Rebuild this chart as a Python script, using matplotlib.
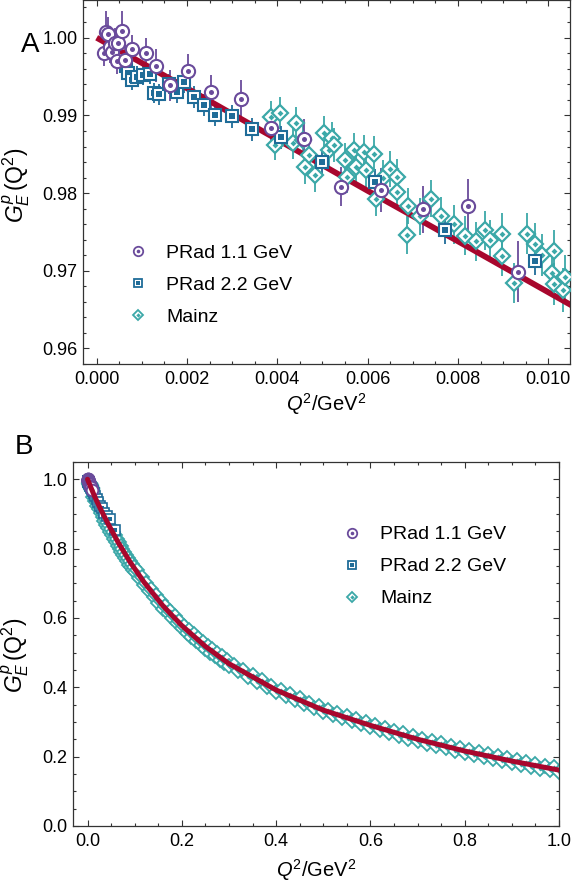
import matplotlib
matplotlib.use("Agg")
import matplotlib.pyplot as plt
from matplotlib.ticker import MultipleLocator, FormatStrFormatter
from matplotlib.lines import Line2D
from matplotlib.legend_handler import HandlerTuple

plt.rcParams['font.family'] = ['Liberation Sans', 'DejaVu Sans']
plt.rcParams['mathtext.fontset'] = 'custom'
plt.rcParams['mathtext.rm'] = 'Liberation Sans'
plt.rcParams['mathtext.it'] = 'Liberation Sans:italic'

# PRad 1.1 GeV (low Q^2)
prad1_q2 = [0.00016, 0.00021, 0.00026, 0.00030, 0.00035, 0.00040, 0.00046, 0.00048,
            0.00057, 0.00062, 0.00079, 0.00109, 0.00132, 0.00163, 0.00202, 0.00254,
            0.00320, 0.00387, 0.00460, 0.00542, 0.00629, 0.00723, 0.00823, 0.00933]
prad1_ge = [0.9980, 1.0007, 1.0005, 0.9988, 0.9982, 0.9993, 0.9970, 0.9993,
            1.0009, 0.9972, 0.9985, 0.9980, 0.9964, 0.9939, 0.9957, 0.9930,
            0.9921, 0.9884, 0.9870, 0.9808, 0.9804, 0.9779, 0.9784, 0.9699]
prad1_err = [0.0016, 0.0028, 0.0022, 0.0020, 0.0018, 0.0020, 0.0017, 0.0016,
             0.0025, 0.0019, 0.0019, 0.0020, 0.0021, 0.0020, 0.0022, 0.0022,
             0.0024, 0.0025, 0.0025, 0.0025, 0.0028, 0.0030, 0.0034, 0.0039]

# PRad 2.2 GeV
prad2_q2 = [0.00064, 0.00070, 0.00078, 0.00090, 0.00102, 0.00118, 0.00126, 0.00138,
            0.00160, 0.00178, 0.00193, 0.00215, 0.00237, 0.00263, 0.00300, 0.00345,
            0.00408, 0.00500, 0.00616, 0.00771, 0.00971]
prad2_ge = [0.9963, 0.9955, 0.9946, 0.9950, 0.9952, 0.9953, 0.9929, 0.9927,
            0.9940, 0.9930, 0.9943, 0.9924, 0.9913, 0.9901, 0.9899, 0.9882,
            0.9872, 0.9840, 0.9814, 0.9753, 0.9713]
prad2_err = [0.0014, 0.0013, 0.0013, 0.0013, 0.0013, 0.0013, 0.0013, 0.0013,
             0.0013, 0.0014, 0.0014, 0.0014, 0.0014, 0.0014, 0.0015, 0.0015,
             0.0015, 0.0016, 0.0017, 0.0018, 0.0019]
# PRad 2.2 GeV above 0.0105 GeV^2 (only seen in panel B)
prad2_hi_q2 = [0.0115, 0.0135, 0.016, 0.0195, 0.023, 0.027, 0.030, 0.035, 0.041, 0.048, 0.058]
prad2_hi_ge = [0.9650, 0.9595, 0.9530, 0.9430, 0.9340, 0.9230, 0.9160, 0.9040, 0.8950, 0.8850, 0.8540]

# Mainz (low Q^2)
mainz_q2 = [0.00386, 0.00395, 0.00405, 0.00434, 0.00442, 0.00456, 0.00462, 0.00471,
            0.00484, 0.00504, 0.00515, 0.00522, 0.00526, 0.00550, 0.00555, 0.00570,
            0.00574, 0.00592, 0.00596, 0.00614, 0.00618, 0.00633, 0.00650, 0.00666,
            0.00666, 0.00690, 0.00688, 0.00715, 0.00740, 0.00762, 0.00791, 0.00815,
            0.00839, 0.00860, 0.00872, 0.00898, 0.00898, 0.00923, 0.00953, 0.00970,
            0.00986, 0.01008, 0.01012, 0.01012, 0.01032, 0.01038]
mainz_ge = [0.9898, 0.9862, 0.9903, 0.9864, 0.9890, 0.9868, 0.9833, 0.9849,
            0.9823, 0.9877, 0.9855, 0.9871, 0.9862, 0.9843, 0.9821, 0.9856,
            0.9834, 0.9853, 0.9830, 0.9851, 0.9793, 0.9819, 0.9831, 0.9821,
            0.9802, 0.9783, 0.9746, 0.9770, 0.9793, 0.9771, 0.9760, 0.9745,
            0.9738, 0.9752, 0.9740, 0.9748, 0.9719, 0.9684, 0.9748, 0.9735,
            0.9720, 0.9697, 0.9725, 0.9683, 0.9675, 0.9692]
mainz_err = [0.0020, 0.0020, 0.0021, 0.0020, 0.0021, 0.0020, 0.0021, 0.0020,
             0.0021, 0.0022, 0.0021, 0.0021, 0.0022, 0.0022, 0.0021, 0.0022,
             0.0022, 0.0022, 0.0022, 0.0023, 0.0022, 0.0023, 0.0023, 0.0023,
             0.0023, 0.0023, 0.0024, 0.0024, 0.0024, 0.0024, 0.0025, 0.0025,
             0.0025, 0.0025, 0.0025, 0.0026, 0.0026, 0.0026, 0.0027, 0.0027,
             0.0027, 0.0027, 0.0027, 0.0027, 0.0028, 0.0028]

# Mainz above 0.0105 GeV^2 (panel B)
mainz_hi_q2 = [0.012, 0.014, 0.016, 0.018, 0.020, 0.022, 0.024, 0.026, 0.028, 0.030,
               0.032, 0.034, 0.036, 0.038, 0.040, 0.042, 0.044, 0.046, 0.048, 0.050,
               0.052, 0.054, 0.056, 0.058, 0.060, 0.062, 0.064, 0.066, 0.068, 0.070,
               0.072, 0.074, 0.076, 0.078, 0.080, 0.082, 0.084, 0.086, 0.088, 0.090,
               0.092, 0.094, 0.096, 0.098,
               0.100, 0.105, 0.110, 0.115, 0.120, 0.125, 0.130, 0.135, 0.140, 0.145,
               0.150, 0.155, 0.160, 0.165, 0.170, 0.175, 0.180, 0.185, 0.190, 0.195,
               0.200, 0.205, 0.210, 0.215, 0.220, 0.225, 0.230, 0.235, 0.240, 0.245,
               0.250, 0.255, 0.260, 0.265, 0.270, 0.275, 0.280, 0.285, 0.290, 0.295,
               0.30, 0.31, 0.32, 0.33, 0.34, 0.35, 0.36, 0.37, 0.38, 0.39,
               0.40, 0.41, 0.42, 0.43, 0.44, 0.45, 0.46, 0.47, 0.48, 0.49,
               0.50, 0.51, 0.52, 0.53, 0.54, 0.55, 0.56, 0.57, 0.58, 0.59,
               0.60, 0.61, 0.62, 0.63, 0.64, 0.65, 0.66, 0.67, 0.68, 0.69,
               0.70, 0.71, 0.72, 0.73, 0.74, 0.75, 0.76, 0.77, 0.78, 0.79,
               0.80, 0.81, 0.82, 0.83, 0.84, 0.85, 0.86, 0.87, 0.88, 0.89,
               0.90, 0.91, 0.92, 0.93, 0.94, 0.95, 0.96, 0.97, 0.98, 0.99, 1.00]
mainz_hi_ge = [0.949, 0.956, 0.936, 0.944, 0.924, 0.932, 0.913, 0.921, 0.902, 0.910,
               0.891, 0.899, 0.880, 0.889, 0.869, 0.878, 0.859, 0.868, 0.849, 0.858,
               0.839, 0.848, 0.829, 0.838, 0.819, 0.828, 0.809, 0.818, 0.799, 0.809,
               0.790, 0.800, 0.781, 0.791, 0.772, 0.782, 0.763, 0.773, 0.754, 0.764,
               0.746, 0.756, 0.738, 0.748,
               0.734, 0.738, 0.714, 0.719, 0.695, 0.700, 0.678, 0.683, 0.661, 0.666,
               0.644, 0.649, 0.627, 0.634, 0.613, 0.620, 0.599, 0.605, 0.584, 0.591,
               0.570, 0.578, 0.558, 0.566, 0.546, 0.554, 0.534, 0.542, 0.522, 0.530,
               0.510, 0.519, 0.500, 0.509, 0.490, 0.499, 0.480, 0.489, 0.470, 0.479,
               0.462, 0.465, 0.447, 0.450, 0.431, 0.435, 0.416, 0.420, 0.401, 0.405,
               0.386, 0.391, 0.374, 0.380, 0.363, 0.368, 0.351, 0.356, 0.340, 0.345,
               0.328, 0.335, 0.319, 0.326, 0.310, 0.317, 0.302, 0.308, 0.293, 0.299,
               0.284, 0.291, 0.276, 0.283, 0.268, 0.275, 0.260, 0.267, 0.252, 0.259,
               0.244, 0.252, 0.237, 0.245, 0.230, 0.238, 0.224, 0.231, 0.217, 0.224,
               0.210, 0.218, 0.204, 0.212, 0.198, 0.207, 0.193, 0.201, 0.187, 0.195,
               0.181, 0.189, 0.176, 0.184, 0.171, 0.179, 0.165, 0.174, 0.160, 0.169, 0.155]

# fit curve
fit_q2 = [0.0, 0.002, 0.004, 0.006, 0.008, 0.0105, 0.015, 0.02, 0.03, 0.045, 0.065, 0.09,
          0.12, 0.16, 0.2, 0.25, 0.3, 0.4, 0.5, 0.6, 0.7, 0.8, 0.9, 1.0]
fit_ge = [1.0, 0.9935, 0.9869, 0.9803, 0.9738, 0.9656, 0.951, 0.936, 0.908, 0.868, 0.818, 0.762,
          0.703, 0.635, 0.578, 0.518, 0.468, 0.392, 0.334, 0.290, 0.250, 0.216, 0.187, 0.161]

labels = ['PRad 1.1 GeV', 'PRad 2.2 GeV', 'Mainz']

purple = '#6a4b9b'
blue = '#1f6c98'
teal = '#3ba8a8'
red = '#a8072d'
frame = '#333333'

fig = plt.figure(figsize=(5.72, 8.92), dpi=100)
axA = fig.add_axes([0.1451, 0.5919, 0.8514, 0.4081])
axB = fig.add_axes([0.1271, 0.0741, 0.8502, 0.4083])


def draw_points(ax, xs, ys, color, marker, ms, ms_in, mew, z):
    # each point drawn as white-filled outline plus a small solid centre
    for i, (x, y) in enumerate(zip(xs, ys)):
        zz = z + i * 0.001
        ax.plot([x], [y], ls='none', marker=marker, ms=ms, mfc='white', mec=color,
                mew=mew, zorder=zz)
        ax.plot([x], [y], ls='none', marker=marker, ms=ms_in, mfc=color, mec=color,
                mew=0, zorder=zz + 0.0005)


def style_axis(ax):
    for s in ax.spines.values():
        s.set_color(frame)
        s.set_linewidth(0.9)
    ax.tick_params(which='both', direction='in', top=True, right=True, color=frame,
                   width=0.8, labelsize=13)
    ax.tick_params(which='major', length=4.5)
    ax.tick_params(which='minor', length=2.5)
    ax.tick_params(axis='x', pad=5)
    ax.tick_params(axis='y', pad=4)


def make_legend(ax, x, y):
    handles = [
        (Line2D([], [], ls='none', marker='o', ms=6.8, mfc='white', mec=purple, mew=1.3),
         Line2D([], [], ls='none', marker='o', ms=2.6, mfc=purple, mec=purple, mew=0)),
        (Line2D([], [], ls='none', marker='s', ms=6.3, mfc='white', mec=blue, mew=1.3),
         Line2D([], [], ls='none', marker='s', ms=2.8, mfc=blue, mec=blue, mew=0)),
        (Line2D([], [], ls='none', marker='D', ms=5.2, mfc='white', mec=teal, mew=1.3),
         Line2D([], [], ls='none', marker='D', ms=2.2, mfc=teal, mec=teal, mew=0)),
    ]
    ax.legend(handles, labels, handler_map={tuple: HandlerTuple(ndivide=1)},
              loc='center left', bbox_to_anchor=(x, y), frameon=False, fontsize=14,
              handlelength=1.0, handletextpad=0.95, labelspacing=0.74,
              borderpad=0, borderaxespad=0)


ylab = r'$G_E^p\,(\mathrm{Q}^2)$'
xlab = r'$Q^2/\mathrm{GeV}^2$'

# ---- panel A ----
axA.errorbar(mainz_q2, mainz_ge, yerr=mainz_err, fmt='none', ecolor=teal, elinewidth=1.3, zorder=2)
axA.errorbar(prad2_q2, prad2_ge, yerr=prad2_err, fmt='none', ecolor=blue, elinewidth=1.3, zorder=2)
axA.errorbar(prad1_q2, prad1_ge, yerr=prad1_err, fmt='none', ecolor=purple, elinewidth=1.3, zorder=2)
axA.plot(fit_q2, fit_ge, color=red, lw=4.2, solid_capstyle='butt', zorder=3)
draw_points(axA, mainz_q2, mainz_ge, teal, 'D', 8.0, 3.0, 1.6, 4)
draw_points(axA, prad2_q2, prad2_ge, blue, 's', 8.5, 3.8, 1.5, 5)
draw_points(axA, prad1_q2, prad1_ge, purple, 'o', 9.5, 3.6, 1.5, 6)

axA.set_xlim(-0.000303, 0.010481)
axA.set_ylim(0.9580, 1.00486)
axA.xaxis.set_major_locator(MultipleLocator(0.002))
axA.xaxis.set_minor_locator(MultipleLocator(0.0005))
axA.xaxis.set_major_formatter(FormatStrFormatter('%.3f'))
axA.yaxis.set_major_locator(MultipleLocator(0.01))
axA.yaxis.set_minor_locator(MultipleLocator(0.002))
axA.yaxis.set_major_formatter(FormatStrFormatter('%.2f'))
style_axis(axA)
axA.set_xlabel(xlab, fontsize=14.5)
axA.set_ylabel(ylab, fontsize=16.5)
axA.yaxis.set_label_coords(-0.104, 0.49)
axA.xaxis.set_label_coords(0.5, -0.075)
make_legend(axA, 0.093, 0.2175)

# ---- panel B ----
draw_points(axB, mainz_hi_q2, mainz_hi_ge, teal, 'D', 6.8, 2.0, 1.3, 2)
draw_points(axB, mainz_q2, mainz_ge, teal, 'D', 6.8, 2.0, 1.3, 2.5)
draw_points(axB, prad2_hi_q2, prad2_hi_ge, blue, 's', 7.2, 2.8, 1.2, 3)
draw_points(axB, prad2_q2, prad2_ge, blue, 's', 7.2, 2.8, 1.2, 3.5)
draw_points(axB, prad1_q2, prad1_ge, purple, 'o', 8.4, 2.8, 1.4, 4)
axB.plot(fit_q2, fit_ge, color=red, lw=3.6, solid_capstyle='round', zorder=6)

axB.set_xlim(-0.0314, 1.0)
axB.set_ylim(0.0, 1.0508)
axB.xaxis.set_major_locator(MultipleLocator(0.2))
axB.xaxis.set_minor_locator(MultipleLocator(0.05))
axB.xaxis.set_major_formatter(FormatStrFormatter('%.1f'))
axB.yaxis.set_major_locator(MultipleLocator(0.2))
axB.yaxis.set_minor_locator(MultipleLocator(0.05))
axB.yaxis.set_major_formatter(FormatStrFormatter('%.1f'))
style_axis(axB)
axB.set_xlabel(xlab, fontsize=14.5)
axB.set_ylabel(ylab, fontsize=16.5)
axB.yaxis.set_label_coords(-0.086, 0.469)
axB.xaxis.set_label_coords(0.5, -0.085)
make_legend(axB, 0.5537, 0.712)

fig.text(30 / 572, 1 - 45 / 892, 'A', fontsize=20, ha='center', va='center')
fig.text(24 / 572, 1 - 447 / 892, 'B', fontsize=20, ha='center', va='center')

fig.savefig('out.png', dpi=100)
